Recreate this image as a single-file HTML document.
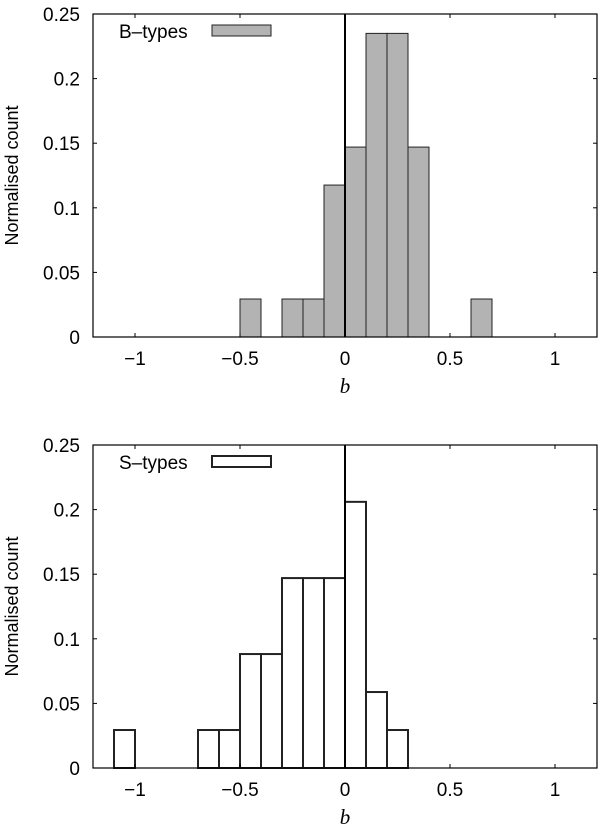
<!DOCTYPE html>
<html><head><meta charset="utf-8"><style>
body{margin:0;background:#fff}
svg text{font-family:"Liberation Sans",sans-serif;font-size:19px;fill:#000}
</style></head><body>
<svg id="chart" width="600" height="831" xmlns="http://www.w3.org/2000/svg"></svg>
<script>
const binStarts = [-1.1,-1.0,-0.9,-0.8,-0.7,-0.6,-0.5,-0.4,-0.3,-0.2,-0.1,0,0.1,0.2,0.3,0.4,0.5,0.6,0.7];
const bTypeCounts = [0,0,0,0,0,0,0.0294,0,0.0294,0.0294,0.1176,0.147,0.235,0.235,0.147,0,0,0.0294,0];
const sTypeCounts = [0.0294,0,0,0,0.0294,0.0294,0.0882,0.0882,0.147,0.147,0.147,0.206,0.0588,0.0294,0,0,0,0,0];
const xTicks = [-1,-0.5,0,0.5,1];
const xTickLabels = ["\u22121","\u22120.5","0","0.5","1"];
const yTicks = [0,0.05,0.1,0.15,0.2,0.25];
const yTickLabels = ["0","0.05","0.1","0.15","0.2","0.25"];
const binWidth = 0.1;

const NS="http://www.w3.org/2000/svg";
const svg=document.getElementById('chart');
function mk(t,a,p){const e=document.createElementNS(NS,t);for(const k in a)e.setAttribute(k,a[k]);(p||svg).appendChild(e);return e;}

function panel(top,bottom,counts,fill,sw,label,prefix){
  const L=93,R=597;
  const x=v=>L+(v+1.2)/2.4*(R-L);
  const y=v=>bottom-v/0.25*(bottom-top);
  const g=mk('g',{});
  
  
  counts.forEach((c,i)=>{
    if(c<=0)return;
    const r=mk('rect',{x:x(binStarts[i]),y:y(c),width:x(binStarts[i]+binWidth)-x(binStarts[i]),height:bottom-y(c),fill:fill,stroke:'#222','stroke-width':sw},g);
    
    
  });
  const zl=mk('line',{x1:x(0),x2:x(0),y1:top,y2:bottom,stroke:'#000','stroke-width':2},g);
  
  
  const f=mk('rect',{x:L,y:top,width:R-L,height:bottom-top,fill:'none',stroke:'#000','stroke-width':1.2},g);
  
  
  xTicks.forEach((v,i)=>{
    mk('line',{x1:x(v),x2:x(v),y1:bottom,y2:bottom-4,stroke:'#000'},g);
    mk('line',{x1:x(v),x2:x(v),y1:top,y2:top+4,stroke:'#000'},g);
    const t=mk('text',{x:x(v),y:bottom+28,'text-anchor':'middle'},g);
    t.textContent=xTickLabels[i];
    
    
  });
  yTicks.forEach((v,i)=>{
    mk('line',{x1:L,x2:L+4,y1:y(v),y2:y(v),stroke:'#000'},g);
    mk('line',{x1:R,x2:R-4,y1:y(v),y2:y(v),stroke:'#000'},g);
    const t=mk('text',{x:80,y:y(v)+7,'text-anchor':'end'},g);
    t.textContent=yTickLabels[i];
    
    
  });
  const xt=mk('text',{x:345,y:bottom+56,'text-anchor':'middle','font-style':'italic',style:'font-family:"Liberation Serif",serif;font-size:21px'},g);
  xt.textContent='b';
  
  
  const yt=mk('text',{x:0,y:0,'text-anchor':'middle',transform:`translate(18,${(top+bottom)/2}) rotate(-90)`,style:'font-size:18px'},g);
  yt.textContent='Normalised count';
  
  
  const lt=mk('text',{x:119,y:top+24},g);
  lt.textContent=label;
  
  
  const lb=mk('rect',{x:212,y:top+11,width:59,height:11,fill:fill,stroke:'#222','stroke-width':sw},g);
  
  
}
panel(14,337,bTypeCounts,'#b3b3b3',1,'B\u2013types','b-types');
panel(445,768,sTypeCounts,'#fff',2,'S\u2013types','s-types');
</script>
</body></html>
